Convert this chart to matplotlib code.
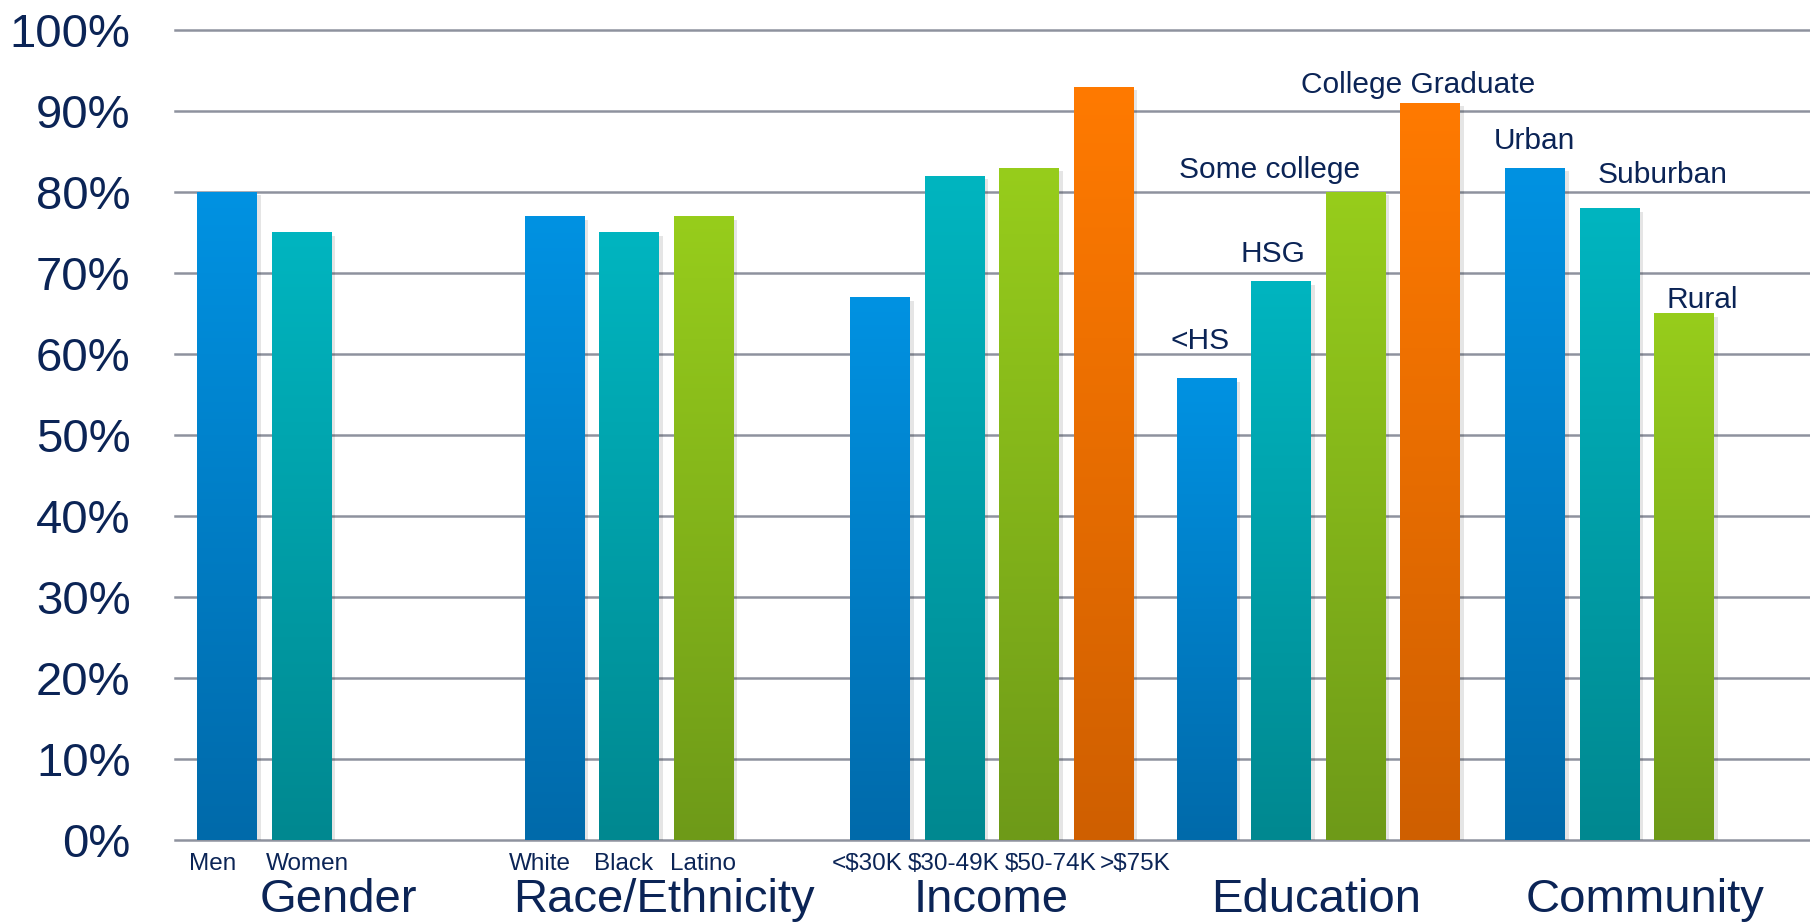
import matplotlib
matplotlib.use('Agg')
import matplotlib.pyplot as plt
import matplotlib.transforms as mtransforms
import numpy as np
from matplotlib.colors import LinearSegmentedColormap
import matplotlib.patheffects as pe

# ---------------- data ----------------
group_names = ['Gender', 'Race/Ethnicity', 'Income', 'Education', 'Community']

gender_labels = ['Men', 'Women']
gender_values = [80, 75]

race_labels = ['White', 'Black', 'Latino']
race_values = [77, 75, 77]

income_labels = ['<$30K', '$30-49K', '$50-74K', '>$75K']
income_values = [67, 82, 83, 93]

education_labels = ['<HS', 'HSG', 'Some college', 'College Graduate']
education_values = [57, 69, 80, 91]

community_labels = ['Urban', 'Suburban', 'Rural']
community_values = [83, 78, 65]

yticks = [0, 10, 20, 30, 40, 50, 60, 70, 80, 90, 100]
ytick_labels = [f'{v}%' for v in yticks]

# ---------------- layout / style ----------------
NAVY = '#0B2456'
GRID = '#8E929E'
FONT = 'Liberation Sans'
gradients = [('#0092E2', '#006AAA'),   # blue
             ('#00B5C0', '#008890'),   # teal
             ('#97CD1C', '#6E9A18'),   # green
             ('#FF7A00', '#CF5F00')]   # orange

group_start = [0, 4.4, 8.77, 13.15, 17.56]      # slot units
group_label_x = [1.50, 5.87, 10.26, 14.62, 19.03]
bar_w = 0.805

# small label x-offsets (pixels) under bars
small_dx = {'Gender': [-15, 6], 'Race/Ethnicity': [-15, -6, -1],
            'Income': [-13, -1, 21, 31]}
# labels above bars: (dx px, baseline dy px above bar top)
above_off = {'Education': [(-7, 29), (-8, 19), (-86, 14), (-12, 10)],
             'Community': [(-1, 19), (53, 25), (18, 5)]}

W, H = 1810, 922
fig = plt.figure(figsize=(W / 100, H / 100), dpi=100)
ax_left, ax_right = 175, 1810
y0_px, y100_px = 840, 30
ax = fig.add_axes([ax_left / W, (H - y0_px) / H, (ax_right - ax_left) / W,
                   (y0_px - y100_px) / H])

xlim = (-0.70, 21.25)

groups = [
    (group_names[0], gender_labels, gender_values, True),
    (group_names[1], race_labels, race_values, True),
    (group_names[2], income_labels, income_values, True),
    (group_names[3], education_labels, education_values, False),
    (group_names[4], community_labels, community_values, False),
]

# grid lines
for v in yticks:
    ax.axhline(v, color=GRID, lw=1.8, zorder=0, clip_on=False)

grad = np.linspace(0, 1, 256).reshape(-1, 1)


def fig_y(px):
    return (H - px) / H


tr_mix = mtransforms.blended_transform_factory(ax.transData, fig.transFigure)

for gi, (gname, labels, values, under) in enumerate(groups):
    xs = group_start[gi] + np.arange(len(values))
    for i, (x, v) in enumerate(zip(xs, values)):
        top, bot = gradients[i]
        cmap = LinearSegmentedColormap.from_list('g', [bot, top])
        bars = ax.bar(x, v, width=bar_w, color='none', edgecolor='none', zorder=2)
        patch = bars[0]
        patch.set_path_effects([pe.SimplePatchShadow(offset=(2.5, -2.5),
                                                     shadow_rgbFace='#000000',
                                                     alpha=0.10)])
        im = ax.imshow(grad, cmap=cmap, origin='lower', aspect='auto',
                       extent=[x - bar_w / 2, x + bar_w / 2, 0, v], zorder=3,
                       interpolation='bilinear')
        im.set_clip_path(patch)
    if under:
        for i, (x, lab) in enumerate(zip(xs, labels)):
            shift = mtransforms.ScaledTranslation(small_dx[gname][i] / 100, 0,
                                                  fig.dpi_scale_trans)
            ax.text(x, fig_y(870), lab, transform=tr_mix + shift, ha='center',
                    va='baseline', fontsize=17.5, color=NAVY, family=FONT)
    else:
        for i, (x, v, lab) in enumerate(zip(xs, values, labels)):
            dx, dy = above_off[gname][i]
            ax.annotate(lab, xy=(x, v), xytext=(dx, dy), textcoords='offset pixels',
                        ha='center', va='baseline', fontsize=21.5, color=NAVY,
                        family=FONT, zorder=5)
    ax.text(group_label_x[gi], fig_y(912), gname, transform=tr_mix, ha='center',
            va='baseline', fontsize=34, color=NAVY, family=FONT)

ax.set_xlim(*xlim)
ax.set_ylim(0, 100)
ax.set_yticks(yticks)
ax.set_yticklabels(ytick_labels, fontsize=34, color=NAVY, family=FONT)
ax.tick_params(axis='y', length=0, pad=32)
ax.set_xticks([])
for s in ax.spines.values():
    s.set_visible(False)
ax.set_facecolor('none')

fig.savefig('out.png', dpi=100, facecolor='white')
